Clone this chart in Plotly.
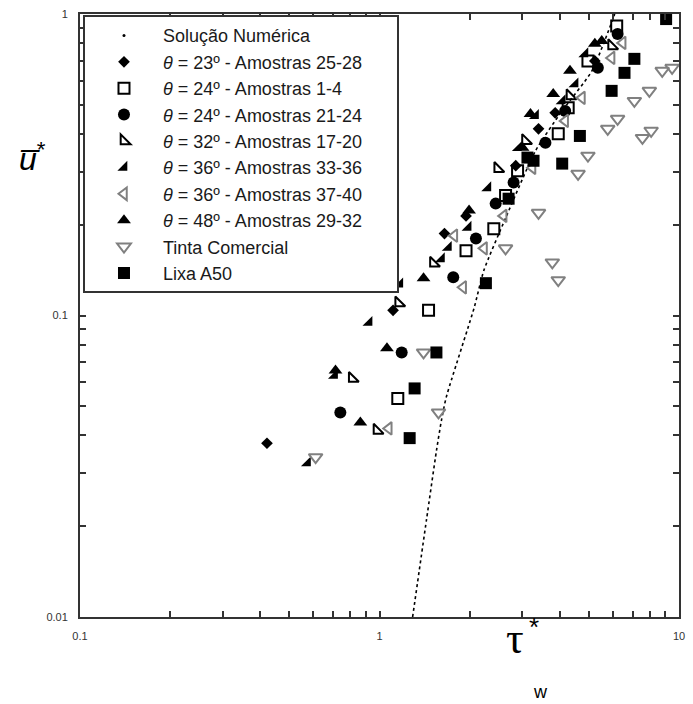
import plotly.graph_objects as go

# ---------------- data ----------------
num_x = [1.29, 1.435, 1.55, 1.61, 1.67, 2.07, 2.23, 2.64, 3.32, 4.07, 5.12, 6.10]
num_y = [0.010, 0.021, 0.0357, 0.0449, 0.0535, 0.106, 0.141, 0.211, 0.352, 0.477, 0.648, 1.0]

t23_x = [0.421, 1.11, 1.648, 1.945, 2.85, 3.396, 3.86, 5.236]
t23_y = [0.0377, 0.104, 0.187, 0.214, 0.314, 0.416, 0.470, 0.699]

t24a_x = [1.151, 1.458, 1.945, 2.408, 2.636, 2.891, 3.952, 4.266, 4.966, 6.194]
t24a_y = [0.0531, 0.104, 0.164, 0.194, 0.250, 0.302, 0.401, 0.489, 0.699, 0.913]

t24b_x = [0.740, 1.186, 1.763, 2.099, 2.443, 2.804, 3.581, 4.169, 5.358, 6.237]
t24b_y = [0.0477, 0.0754, 0.134, 0.180, 0.235, 0.276, 0.374, 0.477, 0.663, 0.859]

t32_x = [0.981, 0.811, 1.159, 1.514, 2.482, 3.073, 4.325, 5.957]
t32_y = [0.0416, 0.0618, 0.110, 0.149, 0.307, 0.380, 0.535, 0.784]

t36a_x = [0.575, 0.708, 0.923, 1.169, 1.61, 1.698, 1.977, 2.301, 2.911, 3.319, 4.074, 4.498, 4.853]
t36a_y = [0.0324, 0.0633, 0.0948, 0.127, 0.154, 0.168, 0.196, 0.265, 0.360, 0.460, 0.515, 0.586, 0.737]

t36b_x = [1.074, 1.778, 1.903, 2.234, 2.598, 3.243, 4.169, 4.742, 5.957, 6.486]
t36b_y = [0.0422, 0.184, 0.124, 0.167, 0.214, 0.309, 0.442, 0.527, 0.715, 0.802]

t48_x = [0.863, 1.059, 0.713, 1.403, 1.991, 3.003, 3.192, 3.802, 4.325, 5.236, 5.521]
t48_y = [0.0442, 0.0778, 0.0657, 0.133, 0.223, 0.360, 0.466, 0.543, 0.648, 0.796, 0.814]

tinta_x = [0.612, 1.574, 1.403, 2.636, 3.396, 3.776, 3.952, 4.603, 4.966, 5.781, 6.237,
           7.096, 7.962, 7.551, 8.072, 8.790, 9.484]
tinta_y = [0.0339, 0.0477, 0.0754, 0.167, 0.219, 0.150, 0.131, 0.295, 0.339, 0.416, 0.449,
           0.515, 0.556, 0.388, 0.410, 0.648, 0.663]

lixa_x = [1.261, 1.310, 1.549, 2.266, 2.698, 3.119, 3.268, 4.074, 4.667, 5.957, 6.577, 7.096, 9.057]
lixa_y = [0.0392, 0.0573, 0.0754, 0.128, 0.244, 0.334, 0.326, 0.319, 0.394, 0.556, 0.638, 0.710, 0.962]

names = ["<i>θ</i> = 23º - Amostras 25-28",
         "<i>θ</i> = 24º - Amostras 1-4",
         "<i>θ</i> = 24º - Amostras 21-24",
         "<i>θ</i> = 32º - Amostras 17-20",
         "<i>θ</i> = 36º - Amostras 33-36",
         "<i>θ</i> = 36º - Amostras 37-40",
         "<i>θ</i> = 48º - Amostras 29-32",
         "Tinta Comercial",
         "Lixa A50"]

x_ticks = [0.1, 0.2, 0.3, 0.4, 0.5, 0.6, 0.7, 0.8, 0.9, 1, 2, 3, 4, 5, 6, 7, 8, 9, 10]
x_text = ["0.1"] + [""] * 8 + ["1"] + [""] * 8 + ["10"]
y_ticks = [0.01, 0.02, 0.03, 0.04, 0.05, 0.06, 0.07, 0.08, 0.09, 0.1,
           0.2, 0.3, 0.4, 0.5, 0.6, 0.7, 0.8, 0.9, 1]
y_text = ["0.01"] + [""] * 8 + ["0.1"] + [""] * 8 + ["1"]

# ---------------- figure ----------------
BLACK = "#000000"
GRAY = "#808080"
PAD = "\u00a0" * 6   # invisible padding to widen the legend box like the reference
fig = go.Figure()

fig.add_trace(go.Scatter(x=num_x, y=num_y, mode="lines", line=dict(color=BLACK, width=1.6, dash="dot",
                         shape="spline", smoothing=0.6), showlegend=False, hoverinfo="skip"))
fig.add_trace(go.Scatter(x=[None], y=[None], mode="markers", name="Solução Numérica",
                         legendgroup="g0", marker=dict(symbol="circle", size=3, color=BLACK)))

series = [
    (t23_x, t23_y, dict(symbol="diamond", size=9, color=BLACK)),
    (t24a_x, t24a_y, dict(symbol="square-open", size=11, color=BLACK, line=dict(width=2, color=BLACK))),
    (t24b_x, t24b_y, dict(symbol="circle", size=12, color=BLACK)),
    (t32_x, t32_y, dict(symbol="triangle-sw-open", size=11, color=BLACK, line=dict(width=2, color=BLACK))),
    (t36a_x, t36a_y, dict(symbol="triangle-se", size=11, color=BLACK)),
    (t36b_x, t36b_y, dict(symbol="triangle-left-open", size=11, color=GRAY, line=dict(width=2, color=GRAY))),
    (t48_x, t48_y, dict(symbol="triangle-up", size=12, color=BLACK)),
    (tinta_x, tinta_y, dict(symbol="triangle-down-open", size=12, color=GRAY, line=dict(width=2, color=GRAY))),
    (lixa_x, lixa_y, dict(symbol="square", size=12, color=BLACK)),
]
for i, ((sx, sy, mk), nm) in enumerate(zip(series, names)):
    fig.add_trace(go.Scatter(x=sx, y=sy, mode="markers", name=nm + (PAD if i == 0 else ""),
                             marker=mk, legendgroup="g%d" % (i + 1)))

axis_common = dict(type="log", showgrid=False, zeroline=False, showline=True, linecolor="#333333",
                   linewidth=2, mirror="ticks", ticks="inside", ticklen=6, tickwidth=2, tickcolor="#333333",
                   tickfont=dict(family="Arial, Liberation Sans", size=11, color="#333333"))

fig.update_xaxes(range=[-1, 1], tickvals=x_ticks, ticktext=x_text, ticklabelstandoff=8, **axis_common)
fig.update_yaxes(range=[-2, 0], tickvals=y_ticks, ticktext=y_text, ticklabelstandoff=8, **axis_common)

fig.update_layout(
    width=693, height=704,
    margin=dict(l=80, r=8, t=13, b=87),
    plot_bgcolor="white", paper_bgcolor="white",
    font=dict(family="Arial, Liberation Sans", color=BLACK),
    legend=dict(x=0.005, y=0.998, xanchor="left", yanchor="top", bgcolor="white",
                bordercolor="#333333", borderwidth=2, font=dict(size=18, color="#1a1a1a"),
                itemwidth=68, tracegroupgap=0, traceorder="normal"),
    annotations=[
        dict(text="<i>u̅</i><sup>*</sup>", x=-0.105, y=0.80, xref="paper", yref="paper",
             showarrow=False, font=dict(size=32, family="Arial, Liberation Sans")),
        dict(text="τ", x=0.745, y=-0.08, xref="paper", yref="paper", showarrow=False,
             font=dict(size=44, family="Times New Roman, Liberation Serif")),
        dict(text="*", x=0.77, y=-0.045, xref="paper", yref="paper", showarrow=False,
             font=dict(size=26, family="Arial, Liberation Sans")),
        dict(text="w", x=0.785, y=-0.145, xref="paper", yref="paper", showarrow=False,
             font=dict(size=18, family="Arial, Liberation Sans")),
    ],
)

fig.write_html("out.html")
